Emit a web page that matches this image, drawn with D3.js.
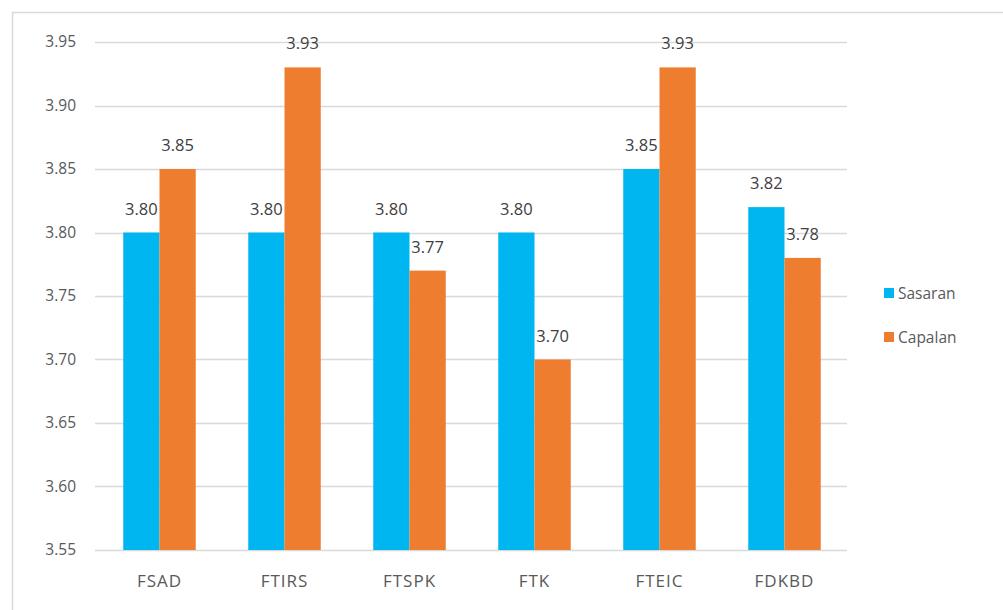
<!DOCTYPE html>
<html><head><meta charset="utf-8">
<script src="https://cdn.jsdelivr.net/npm/d3@7"></script>
<style>body{margin:0;background:#fff}svg{display:block}text{font-family:"Open Sans",sans-serif}</style>
</head><body><svg id="c" width="1003" height="610"></svg>
<script>
const categories = ["FSAD","FTIRS","FTSPK","FTK","FTEIC","FDKBD"];
const seriesNames = ["Sasaran","Capalan"];
const sasaran = [3.80,3.80,3.80,3.80,3.85,3.82];
const capalan = [3.85,3.93,3.77,3.70,3.93,3.78];
const yTicks = [3.55,3.60,3.65,3.70,3.75,3.80,3.85,3.90,3.95];
const colors = ["#00B6F0","#EE7D2F"];

const svg = d3.select("#c");
svg.append("path").attr("d","M12.5,610 V12.5 H1003").attr("fill","none").attr("stroke","#d9d9d9").attr("stroke-width",1.5);

const x = d3.scaleBand().domain(categories).range([97,847]).paddingInner(0.42).paddingOuter(0.21);
const xs = d3.scaleBand().domain(seriesNames).range([0,x.bandwidth()]);
const y = d3.scaleLinear().domain([3.55,3.95]).range([550,42]);

const grid = svg.append("g");
grid.selectAll("line").data(yTicks).join("line")
  .attr("x1",95).attr("x2",847).attr("y1",d=>Math.round(y(d))+0.5).attr("y2",d=>Math.round(y(d))+0.5)
  .attr("stroke","#d9d9d9").attr("stroke-width",1.5);

const yAxis = d3.axisLeft(y).tickValues(yTicks).tickFormat(d3.format(".2f")).tickSize(0).tickPadding(0);
const ga = svg.append("g").attr("transform","translate(76,0)").call(yAxis);
ga.select(".domain").remove();
ga.selectAll("text").attr("font-size",15.5).attr("fill","#595959").attr("font-family","Open Sans");

const xAxis = d3.axisBottom(x).tickSize(0).tickPadding(0);
const gx = svg.append("g").attr("transform","translate(0,575)").call(xAxis);
gx.select(".domain").remove();
gx.selectAll("text").attr("font-size",17).attr("letter-spacing",1).attr("fill","#595959").attr("font-family","Open Sans");

const data = categories.map((c,i)=>({c, vals:[{s:"Sasaran",v:sasaran[i]},{s:"Capalan",v:capalan[i]}]}));
const groups = svg.append("g").selectAll("g").data(data).join("g").attr("transform",d=>`translate(${x(d.c)},0)`);
groups.selectAll("rect").data(d=>d.vals).join("rect")
  .attr("x",d=>xs(d.s)).attr("width",xs.bandwidth())
  .attr("y",d=>y(d.v)).attr("height",d=>y(3.55)-y(d.v))
  .attr("fill",(d,i)=>colors[i]);
groups.selectAll("text").data(d=>d.vals).join("text")
  .attr("x",d=>xs(d.s)+xs.bandwidth()/2).attr("y",d=>y(d.v)-18)
  .attr("text-anchor","middle").attr("font-size",16.5).attr("fill","#404040")
  .text(d=>d3.format(".2f")(d.v));

const leg = svg.append("g").attr("transform","translate(884,0)");
seriesNames.forEach((s,i)=>{
  const yy = 293 + i*44;
  leg.append("rect").attr("x",0).attr("y",yy-5).attr("width",10).attr("height",10).attr("fill",colors[i]);
  leg.append("text").attr("x",14).attr("y",yy+5.5).attr("font-size",15.5).attr("fill","#595959").text(s);
});
</script></body></html>
